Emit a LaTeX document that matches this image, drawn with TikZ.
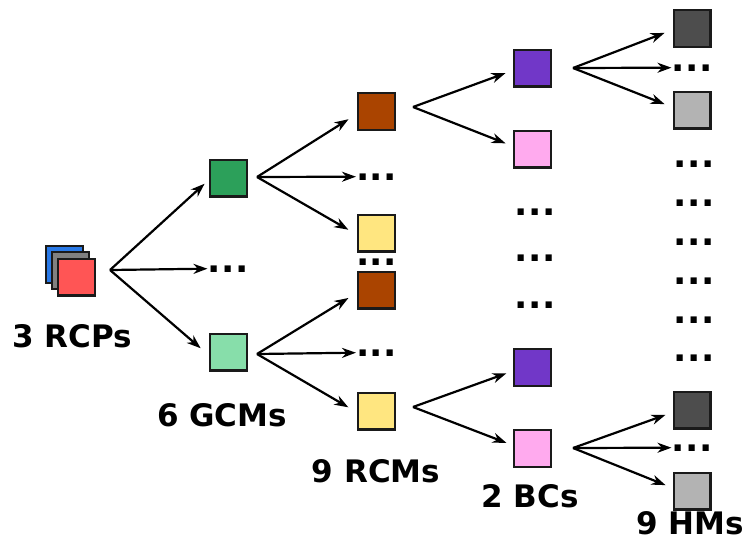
\documentclass[tikz,border=0pt]{standalone}
\usepackage{fontspec}
\setmainfont{DejaVu Sans}
\usetikzlibrary{arrows.meta}
\definecolor{cblue}{HTML}{2A7AE8}
\definecolor{cgray}{HTML}{808080}
\definecolor{cred}{HTML}{FF5555}
\definecolor{dgreen}{HTML}{2CA05A}
\definecolor{lgreen}{HTML}{87DEAA}
\definecolor{cbrown}{HTML}{AA4400}
\definecolor{cyellow}{HTML}{FFE680}
\definecolor{cpurple}{HTML}{7137C8}
\definecolor{cpink}{HTML}{FFAAEE}
\definecolor{dgray}{HTML}{4D4D4D}
\definecolor{lgray}{HTML}{B3B3B3}
\definecolor{edge}{HTML}{1A1A1A}
\newcommand\mydots{.\kern0.4pt.\kern0.4pt.}
\begin{document}
\begin{tikzpicture}[x=1pt,y=-1pt,
  sq/.style={draw=edge, line width=2.3pt, minimum size=36.7pt, inner sep=0pt},
  arr/.style={line width=2.2pt, -{Stealth[length=14pt,width=10pt,inset=4.5pt]}},
  lbl/.style={font=\fontsize{31}{31}\selectfont\bfseries, anchor=base, inner sep=0pt},
  dotsnode/.style={font=\fontsize{35}{35}\selectfont\bfseries, inner sep=0pt, anchor=base}]
\useasboundingbox (0,0) rectangle (746,546);
% RCP stack
\node[sq, fill=cblue] (rcpa) at (64.5,264.5) {};
\node[sq, fill=cgray] (rcpb) at (70.5,270.5) {};
\node[sq, fill=cred] (rcp) at (76.5,277) {};
\node[lbl] (lrcp) at (72,347) {3 RCPs};
% GCMs
\node[sq, fill=dgreen] (g1) at (228.5,178) {};
\node[sq, fill=lgreen] (g2) at (228.5,352) {};
\node[lbl] (lgcm) at (222,426) {6 GCMs};
% RCMs
\node[sq, fill=cbrown] (r1) at (376.5,111.5) {};
\node[sq, fill=cyellow] (r2) at (376.5,233) {};
\node[sq, fill=cbrown] (r3) at (376.5,290) {};
\node[sq, fill=cyellow] (r4) at (376.5,411) {};
\node[lbl] (lrcm) at (376,482) {9 RCMs};
% BCs
\node[sq, fill=cpurple] (b1) at (532.5,68) {};
\node[sq, fill=cpink] (b2) at (532.5,149) {};
\node[sq, fill=cpurple] (b3) at (532.5,367.5) {};
\node[sq, fill=cpink] (b4) at (532.5,448.5) {};
\node[lbl] (lbc) at (530,507) {2 BCs};
% HMs
\node[sq, fill=dgray] (h1) at (692,28.5) {};
\node[sq, fill=lgray] (h2) at (692,110) {};
\node[sq, fill=dgray] (h3) at (692,410) {};
\node[sq, fill=lgray] (h4) at (692,491) {};
\node[lbl] (lhm) at (690,534) {9 HMs};
% dots (anchored at baseline = bottom of dots)
\node[dotsnode] (d0) at (228,272) {\mydots};
\node[dotsnode] (d1) at (376.5,180) {\mydots};
\node[dotsnode] (dm) at (376.5,265) {\mydots};
\node[dotsnode] (d2) at (376.5,356) {\mydots};
\node[dotsnode] (e1) at (535,215) {\mydots};
\node[dotsnode] (e2) at (535,261) {\mydots};
\node[dotsnode] (e3) at (535,308) {\mydots};
\node[dotsnode] (hd0) at (692,71) {\mydots};
\node[dotsnode] (hc1) at (694,167) {\mydots};
\node[dotsnode] (hc2) at (694,206) {\mydots};
\node[dotsnode] (hc3) at (694,245) {\mydots};
\node[dotsnode] (hc4) at (694,284) {\mydots};
\node[dotsnode] (hc5) at (694,323) {\mydots};
\node[dotsnode] (hc6) at (694,361) {\mydots};
\node[dotsnode] (hd1) at (692,451) {\mydots};
% forks
\coordinate (F0) at (110,270);
\coordinate (F1) at (257,177);
\coordinate (F2) at (257,354);
\coordinate (F3) at (413,107);
\coordinate (F4) at (413,407);
\coordinate (F5) at (573,68);
\coordinate (F6) at (573,448);
% arrows
\draw[arr, shorten >=6pt] (F0) -- (g1.185);
\draw[arr] (F0) -- (d0.west);
\draw[arr, shorten >=11pt] (F0) -- (g2.190);
\draw[arr, shorten >=10pt] (F1) -- (r1.187);
\draw[arr] (F1) -- (d1.west);
\draw[arr, shorten >=10pt] (F1) -- (r2.185);
\draw[arr, shorten >=10pt] (F2) -- (r3.188);
\draw[arr] (F2) -- (d2.west);
\draw[arr, shorten >=10pt] (F2) -- (r4.184);
\draw[arr, shorten >=8pt] (F3) -- (b1.187);
\draw[arr, shorten >=8pt] (F3) -- (b2.172);
\draw[arr, shorten >=7pt] (F4) -- (b3.190);
\draw[arr, shorten >=7pt] (F4) -- (b4.171);
\draw[arr, shorten >=8.5pt] (F5) -- (h1.184);
\draw[arr] (F5) -- (hd0.west);
\draw[arr, shorten >=8.5pt] (F5) -- (h2.172);
\draw[arr, shorten >=7.5pt] (F6) -- (h3.187);
\draw[arr] (F6) -- (hd1.west);
\draw[arr, shorten >=7.5pt] (F6) -- (h4.171);
\end{tikzpicture}
\end{document}
